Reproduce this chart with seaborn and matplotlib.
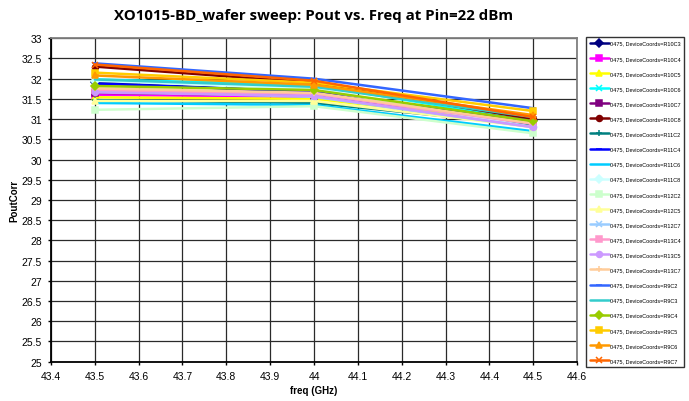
import numpy as np
import pandas as pd
import matplotlib
matplotlib.use('Agg')
import matplotlib.pyplot as plt
import seaborn as sns

freqs = [43.5, 44.0, 44.5]

devices = ['R10C3', 'R10C4', 'R10C5', 'R10C6', 'R10C7', 'R10C8',
           'R11C2', 'R11C4', 'R11C6', 'R11C8', 'R12C2', 'R12C5',
           'R12C7', 'R13C4', 'R13C5', 'R13C7',
           'R9C2', 'R9C3', 'R9C4', 'R9C5', 'R9C6', 'R9C7']

pout = {
    'R10C3': [31.91, 31.66, 30.98],
    'R10C4': [31.60, 31.55, 30.85],
    'R10C5': [31.54, 31.50, 30.90],
    'R10C6': [31.98, 31.85, 30.95],
    'R10C7': [31.65, 31.58, 30.97],
    'R10C8': [32.30, 31.90, 31.00],
    'R11C2': [31.47, 31.40, 30.85],
    'R11C4': [31.88, 31.68, 30.95],
    'R11C6': [31.40, 31.35, 30.70],
    'R11C8': [31.95, 31.75, 30.80],
    'R12C2': [31.23, 31.32, 30.65],
    'R12C5': [31.45, 31.45, 30.80],
    'R12C7': [31.70, 31.55, 30.80],
    'R13C4': [31.72, 31.62, 30.88],
    'R13C5': [31.66, 31.57, 30.80],
    'R13C7': [31.76, 31.65, 30.90],
    'R9C2':  [32.38, 32.00, 31.27],
    'R9C3':  [31.98, 31.80, 31.05],
    'R9C4':  [31.82, 31.72, 30.95],
    'R9C5':  [32.15, 31.90, 31.20],
    'R9C6':  [32.08, 31.85, 31.10],
    'R9C7':  [32.35, 31.95, 31.05],
}

cores = ['#000080', '#FF00FF', '#FFFF00', '#00FFFF', '#800080', '#800000',
         '#008080', '#0000FF', '#00CCFF', '#CCFFFF', '#CCFFCC', '#FFFF99',
         '#99CCFF', '#FF99CC', '#CC99FF', '#FFCC99',
         '#3366FF', '#33CCCC', '#99CC00', '#FFCC00', '#FF9900', '#FF6600']

marcadores = ['D', 's', '^', 'x', 's', 'o', '+', '_', '', 'D', 's', '^',
              'x', 's', 'o', '+', '_', '', 'D', 's', '^', 'x']

linhas = []
for dev in devices:
    for f, p in zip(freqs, pout[dev]):
        linhas.append({'freq': f, 'pout': p, 'device': '0475, DeviceCoords=' + dev})
df = pd.DataFrame(linhas)

sns.set_style('white')
plt.rcParams['font.family'] = ['Liberation Sans', 'DejaVu Sans']
plt.rcParams['text.color'] = 'black'
plt.rcParams['axes.labelcolor'] = 'black'
plt.rcParams['xtick.color'] = 'black'
plt.rcParams['ytick.color'] = 'black'

fig = plt.figure(figsize=(6.89, 4.02), dpi=100)
ax = fig.add_axes([0.074, 0.0978, 0.7635, 0.8045])

for i, dev in enumerate(devices):
    nome = '0475, DeviceCoords=' + dev
    sub = df[df['device'] == nome]
    mk = marcadores[i] if marcadores[i] else None
    sns.lineplot(data=sub, x='freq', y='pout', ax=ax, color=cores[i],
                 marker=mk, markersize=4.3, markeredgewidth=1.1,
                 markeredgecolor=cores[i], linewidth=1.8, label=nome,
                 legend=False)

ax.set_xlim(43.4, 44.6)
ax.set_ylim(25, 33)
ax.set_xticks(np.arange(43.4, 44.61, 0.1))
ax.set_xticklabels(['43.4', '43.5', '43.6', '43.7', '43.8', '43.9', '44',
                    '44.1', '44.2', '44.3', '44.4', '44.5', '44.6'])
ax.set_yticks(np.arange(25, 33.01, 0.5))
ax.set_yticklabels([('%g' % v) for v in np.arange(25, 33.01, 0.5)])
ax.tick_params(labelsize=7.5, length=2.5, width=1, direction='out', pad=4,
               bottom=True, left=True, color='black')
ax.grid(True, color='#2a2a2a', linewidth=0.9)
for lado in ['top', 'right']:
    ax.spines[lado].set_color('#808080')
    ax.spines[lado].set_linewidth(1.3)
for lado in ['bottom', 'left']:
    ax.spines[lado].set_color('black')
    ax.spines[lado].set_linewidth(1.3)

ax.set_xlabel('freq (GHz)', fontsize=7, fontweight='bold', labelpad=3)
ax.set_ylabel('PoutCorr', fontsize=7, fontweight='bold', labelpad=1.5)
ax.set_title('XO1015-BD_wafer sweep: Pout vs. Freq at Pin=22 dBm',
             fontsize=10.8, fontweight='bold',
             family=['Open Sans', 'DejaVu Sans'], pad=14)

handles, labels = ax.get_legend_handles_labels()
leg = fig.legend(handles, labels, loc='upper left',
                 bbox_to_anchor=(0.8505, 0.906),
                 fontsize=4.0, labelspacing=1.82, handlelength=3.4,
                 handletextpad=0.15, borderpad=0.7, borderaxespad=0,
                 frameon=True, fancybox=False, edgecolor='black')
leg.get_frame().set_linewidth(1.0)

fig.savefig('out.png', dpi=100)
